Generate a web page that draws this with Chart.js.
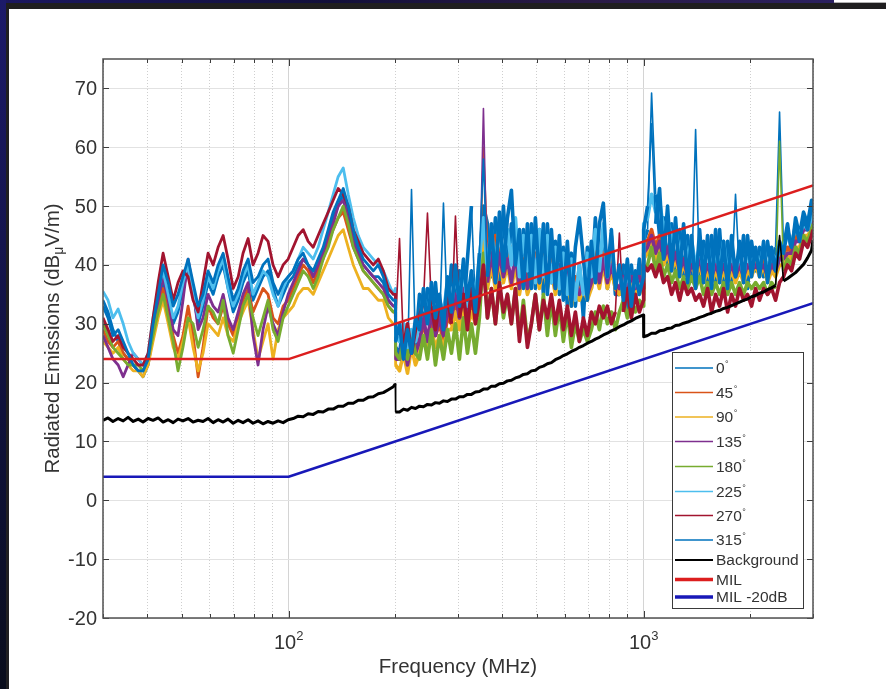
<!DOCTYPE html>
<html>
<head>
<meta charset="utf-8">
<script src="https://cdn.jsdelivr.net/npm/chart.js@4.4.1/dist/chart.umd.min.js"></script>
<style>
  html, body { margin: 0; padding: 0; background: #fff; }
  #wrap { position: relative; width: 886px; height: 689px; overflow: hidden; background: #fff; }
  #wrap canvas { position: absolute; left: 0; top: 0; }
  .edge { position: absolute; }
</style>
</head>
<body>
<div id="wrap">
  <canvas id="chart" width="886" height="689"></canvas>
  <div class="edge" style="left:0;top:0;width:834px;height:3px;background:linear-gradient(90deg,#1b1760,#120f3a 40%,#2a1a45 70%,#2b2060)"></div>
  <div class="edge" style="left:834px;top:2px;width:52px;height:1px;background:#b0b0b0"></div>
  <div class="edge" style="left:0;top:3px;width:886px;height:6px;background:#1f1e1f"></div>
  <div class="edge" style="left:0;top:0;width:6px;height:689px;background:linear-gradient(180deg,#1c1a6a,#15154e 35%,#0d1030 75%,#0a0d1c)"></div>
  <div class="edge" style="left:6px;top:9px;width:3px;height:680px;background:#201f22"></div>
</div>
<script>
// Frequency points of the sweep (MHz)
const freqMHz = [
  // 30 - 197 MHz
  30.0, 31.0, 32.0, 33.1, 34.2, 35.3, 36.5, 37.7, 38.9, 40.2, 41.5, 42.9, 44.3, 45.8, 47.3, 48.8, 50.4, 52.1, 53.8, 55.6,
  57.4, 59.3, 61.3, 63.3, 65.4, 67.5, 69.8, 72.1, 74.4, 76.9, 79.4, 82.0, 84.7, 87.5, 90.4, 93.4, 96.5, 99.7, 103.0, 106.4,
  109.9, 113.5, 117.3, 121.1, 125.1, 129.3, 133.5, 137.9, 142.5, 147.2, 152.1, 157.1, 162.3, 167.6, 173.2, 178.9, 184.8, 190.9, 197.2,
  // band change at 200 MHz
  199.8, 200.2,
  // 205 - 973 MHz
  205.3, 210.7, 216.2, 221.9, 227.7, 233.7, 239.8, 246.1, 252.6, 259.2, 266.0, 273.0, 280.2, 287.5, 295.1, 302.8, 310.8, 318.9, 327.3, 335.9,
  344.7, 353.8, 363.1, 372.6, 382.4, 392.5, 402.8, 413.4, 424.2, 435.4, 446.8, 458.5, 470.6, 482.9, 495.6, 508.6, 522.0, 535.7, 549.8, 564.2,
  579.0, 594.2, 609.8, 625.9, 642.3, 659.2, 676.5, 694.3, 712.5, 731.2, 750.4, 770.1, 790.4, 811.2, 832.5, 854.4, 876.8, 899.8, 923.5, 947.7, 972.6,
  // band change at 1 GHz
  999.5, 1000.5,
  // 1.03 - 3 GHz
  1026, 1053, 1081, 1109, 1138, 1168, 1199, 1230, 1263, 1296, 1330, 1365, 1401, 1438, 1475, 1514, 1554, 1595, 1637, 1680,
  1724, 1769, 1815, 1863, 1912, 1962, 2014, 2067, 2121, 2177, 2234, 2293, 2353, 2415, 2478, 2543, 2610, 2679, 2749, 2821, 2896, 2972, 3000
];

// Radiated emissions per antenna angle (dBuV/m)
const deg0 = [
  34, 32, 29, 27, 25, 24, 23, 22, 21, 23, 28, 33, 37, 34, 30, 32, 36, 39, 35, 30, 33, 37, 35, 38, 40, 36, 32, 34, 37, 39,
  34, 36, 38, 39, 36, 33, 35, 37, 38, 40, 41, 40, 38, 40, 42, 45, 48, 50, 52, 49, 45, 42, 40, 39, 38, 38, 37, 34, 33,
  33, 26,
  25, 30, 23, 52.8, 26, 35, 29, 36, 30, 37, 29, 50.5, 31, 40, 33, 39, 32, 41, 50, 33, 40, 50,
  47, 38, 48, 37, 50, 39, 47, 41, 37, 46, 36, 47, 36, 46, 35, 47, 37, 44, 35, 43, 33,
  42, 33, 40, 31, 43, 36, 48, 37, 46, 36, 45, 35, 35, 40, 32, 40, 34, 41,
  36, 44,
  46, 69.2, 52, 45, 48, 40, 47, 39, 46, 38, 45, 37, 63, 37, 44, 36, 45, 37, 46, 36,
  44, 37, 52, 38, 45, 36, 44, 39, 43, 38, 44, 39, 43, 66, 43, 47, 42, 48, 45, 49, 47, 51, 50
];
const deg45 = [
  29, 27, 26, 27, 25, 24, 23, 22, 22, 24, 29, 33, 36, 32, 28, 25, 28, 33, 28, 21, 26, 33, 31, 30, 33, 30, 28, 31, 34, 36,
  32, 34, 36, 35, 31, 30, 33, 34, 36, 38, 40, 39, 37, 39, 41, 44, 46, 48, 49, 46, 43, 41, 39, 38, 37, 36, 35, 33, 32,
  32, 25,
  24, 27, 23, 28, 25, 27, 30, 27, 31, 28, 30, 27, 31, 30, 34, 31, 35, 30, 34, 31, 36, 60,
  44, 40, 45, 41, 42, 39, 43, 40, 37, 41, 36, 38, 42, 37, 42, 37, 41, 36, 40, 36, 40,
  34, 38, 35, 37, 36, 37, 43, 38, 42, 37, 41, 36, 35, 38, 35, 38, 35, 38,
  36, 43,
  44, 46, 43, 45, 41, 43, 40, 42, 39, 41, 38, 40, 39, 41, 38, 40, 38, 40, 38, 40,
  38, 40, 38, 40, 38, 40, 39, 41, 39, 41, 38, 40, 39, 42, 41, 43, 42, 45, 44, 47, 46, 48, 49
];
const deg90 = [
  27, 26, 25, 26, 24, 23, 22, 22, 21, 23, 27, 31, 34, 30, 26, 24, 27, 31, 26, 22, 25, 30, 29, 28, 31, 28, 27, 30, 32, 34,
  29, 24, 27, 30, 24, 29, 31, 32, 33, 35, 36, 36, 35, 37, 39, 41, 43, 45, 46, 43, 40, 38, 36, 36, 35, 34, 34, 31, 30,
  30, 23,
  22, 25, 21.6, 26, 23, 25, 28, 25, 29, 26, 28, 26, 29, 29, 32, 29, 33, 29, 32, 30, 34, 45,
  36, 40, 36, 41, 37, 40, 36, 40, 35, 39, 35, 37, 40, 36, 40, 36, 39, 35, 39, 35, 38,
  33, 36, 34, 36, 34, 36, 39, 36, 40, 36, 39, 36, 35, 37, 35, 37, 35, 37,
  35, 41,
  42, 44, 41, 43, 40, 42, 39, 41, 38, 40, 38, 40, 38, 40, 37, 39, 37, 39, 37, 39,
  37, 39, 37, 39, 37, 39, 38, 40, 38, 40, 37, 39, 38, 40, 40, 42, 41, 43, 43, 45, 45, 46, 47
];
const deg135 = [
  28, 26, 24, 23, 21, 23, 25, 24, 23, 24, 29, 34, 38, 34, 29, 28, 34, 41, 36, 29, 31, 35, 33, 32, 35, 31, 29, 32, 35, 37,
  28, 23, 29, 33, 30, 28, 32, 35, 37, 39, 41, 40, 38, 40, 42, 45, 47, 50, 51, 48, 44, 42, 40, 39, 38, 37, 36, 34, 33,
  33, 24,
  24, 28, 23, 27, 25, 27, 31, 27, 32, 28, 31, 28, 32, 31, 35, 31, 36, 31, 35, 32, 36, 66.6,
  37, 42, 37, 42, 38, 41, 37, 42, 36, 40, 36, 38, 41, 37, 41, 37, 40, 36, 40, 36, 39,
  34, 37, 35, 37, 35, 37, 41, 37, 41, 37, 40, 37, 36, 38, 36, 38, 36, 38,
  36, 42,
  43, 45, 42, 44, 41, 43, 40, 42, 39, 41, 38, 40, 39, 41, 38, 40, 38, 40, 38, 40,
  38, 40, 38, 40, 38, 40, 39, 40, 39, 40, 38, 40, 39, 41, 41, 42, 42, 44, 44, 46, 46, 47, 48
];
const deg180 = [
  30, 28, 26, 25, 24, 23, 23, 23, 22, 24, 28, 32, 35, 31, 27, 22, 26, 31, 30, 26, 29, 33, 32, 30, 34, 28, 25, 29, 33, 35,
  31, 28, 31, 34, 29, 27, 31, 33, 35, 37, 39, 38, 36, 38, 41, 43, 46, 48, 50, 47, 43, 41, 39, 38, 37, 36, 35, 33, 32,
  32, 25,
  24, 27, 24, 28, 25, 24, 28, 24, 29, 23, 28, 24, 29, 25, 30, 24, 31, 25, 30, 25, 31, 42,
  31, 36, 30, 37, 31, 35, 30, 36, 28, 34, 27, 30, 35, 29, 35, 28, 34, 28, 33, 27, 32,
  26, 30, 27, 29, 27, 29, 32, 29, 33, 30, 32, 29, 32, 34, 31, 34, 32, 34,
  33, 39,
  40, 43, 39, 42, 38, 40, 37, 39, 36, 38, 36, 38, 36, 38, 35, 37, 35, 37, 35, 37,
  35, 37, 35, 37, 35, 37, 36, 37, 36, 37, 35, 37, 36, 61, 39, 41, 40, 43, 42, 45, 44, 46, 47
];
const deg225 = [
  35.5, 34, 31, 32.5, 30, 27, 25, 24, 23, 25, 31, 36, 39, 35, 31, 33, 37, 40, 35, 31, 34, 38, 36, 39, 41, 36, 33, 35, 38, 40,
  35, 37, 39, 38, 35, 33, 36, 38, 39, 41, 43, 42, 41, 43, 46, 49, 52, 55, 56.5, 52, 48, 45, 43, 42, 41, 40, 39, 37, 35,
  36, 28,
  27, 30, 26, 29, 27, 30, 35, 31, 36, 30, 34, 32, 37, 33, 39, 34, 40, 33, 38, 35, 41, 48,
  39, 46, 40, 47, 41, 46, 40, 48, 38, 45, 39, 45, 37, 46, 38, 45, 37, 43, 36, 42, 35,
  41, 34, 40, 35, 42, 38, 46, 39, 47, 38, 44, 37, 39, 35, 40, 34, 38, 36,
  37, 47,
  48, 52, 49, 51, 46, 48, 44, 46, 42, 45, 41, 44, 40, 43, 39, 44, 38, 43, 39, 44,
  38, 43, 39, 42, 38, 43, 39, 42, 40, 43, 39, 42, 41, 42, 43, 45, 44, 46, 45, 47, 46, 48, 49
];
const deg270 = [
  31, 29, 27, 28, 26, 25, 24, 23, 23, 25, 31, 37, 42, 38, 34, 37, 39, 38, 34, 32, 37, 42, 40, 43, 45, 41, 36, 38, 42, 44.5,
  40, 42, 45, 44, 40, 38, 40, 41, 43, 45, 46, 44, 43, 45, 47, 49, 51, 53, 52, 50, 46, 44, 42, 41, 40, 41, 39, 36, 35,
  35, 30,
  44.5, 26, 30, 25, 29, 31, 34, 48.8, 33, 29, 34, 30, 35, 30, 48.3, 31, 35, 29, 36, 30, 34, 40,
  31, 36, 30, 37, 32, 35, 30, 36, 27, 33, 26, 30, 35, 29, 34, 31, 35, 30, 34, 29, 33,
  28, 32, 27, 31, 28, 32, 30, 33, 31, 33, 30, 32, 45.4, 32, 36, 31, 35, 32,
  34, 40,
  39, 40, 38, 40, 37, 38, 35, 37, 34, 37, 35, 36, 34, 35, 33, 36, 32, 35, 33, 36,
  32, 35, 33, 36, 34, 35, 33, 36, 34, 36, 35, 36, 34, 37, 38, 40, 39, 42, 41, 44, 43, 45, 46
];
const deg315 = [
  33, 31, 28, 29, 27, 25, 23, 22, 22, 24, 30, 35, 40, 37, 33, 35, 38, 41, 37, 33, 35, 39, 37, 40, 42, 38, 34, 36, 39, 41,
  37, 38, 40, 41, 37, 35, 37, 38, 39, 41, 42, 40, 39, 41, 43, 46, 49, 51, 53, 50, 46, 43, 41, 40, 39, 40, 38, 35, 34,
  34, 27,
  30, 24, 29, 25, 31, 29, 36, 30, 37, 31, 35, 29, 38, 32, 40, 33, 41, 34, 39, 32, 42, 58,
  38, 47, 37, 49, 39, 48, 52.7, 40, 46, 36, 47, 36, 48, 37, 47, 35, 46, 36, 45, 34, 44,
  33, 43, 48, 41, 34, 44, 37, 47, 50.5, 38, 46, 36, 40, 34, 41, 33, 39, 35,
  38, 46,
  50, 64, 47, 53, 41, 50, 39, 48, 38, 47, 37, 45, 36, 46, 37, 45, 36, 46, 37, 44,
  36, 45, 38, 44, 37, 45, 38, 43, 38, 44, 37, 43, 39, 44, 42, 46, 43, 47, 44, 48, 46, 50, 49
];
// Ambient (antenna with equipment off)
const background = [
  13.6, 14.0, 13.4, 13.9, 13.5, 14.1, 13.4, 13.8, 13.3, 13.9, 13.6, 14.0, 13.3, 13.7, 13.2, 13.8, 13.5, 13.9, 13.3, 13.6,
  13.4, 13.9, 13.2, 13.7, 13.3, 13.8, 13.1, 13.6, 13.2, 13.7, 13.1, 13.5, 13.0, 13.4, 13.1, 13.5, 13.2, 13.7, 13.9, 14.3,
  14.2, 14.7, 14.6, 15.1, 15.0, 15.5, 15.5, 16.0, 16.0, 16.5, 16.5, 17.0, 17.0, 17.5, 17.6, 18.1, 18.3, 18.8, 19.3,
  19.8, 15.0,
  15.0, 15.5, 15.3, 15.8, 15.6, 16.0, 15.9, 16.3, 16.2, 16.6, 16.5, 16.9, 16.8, 17.2, 17.2, 17.6, 17.6, 18.0, 18.0, 18.4,
  18.5, 18.9, 18.9, 19.4, 19.4, 19.8, 19.9, 20.3, 20.4, 20.8, 21.0, 21.4, 21.5, 22.0, 22.1, 22.6, 22.8, 23.2, 23.4, 23.9,
  24.2, 24.6, 24.9, 25.3, 25.6, 26.0, 26.3, 26.7, 27.0, 27.4, 27.7, 28.1, 28.4, 28.8, 29.1, 29.5, 29.8, 30.2, 30.5, 30.9, 31.2,
  31.5, 27.8,
  28.0, 28.4, 28.4, 28.8, 28.9, 29.2, 29.3, 29.7, 29.8, 30.1, 30.3, 30.6, 30.8, 31.1, 31.3, 31.6, 31.8, 32.1, 32.3, 32.6,
  32.8, 33.1, 33.4, 33.7, 34.0, 34.2, 34.6, 34.8, 35.2, 35.4, 35.8, 36.1, 36.5, 45.0, 37.3, 37.7, 38.2, 38.7, 39.4, 40.1, 41.2, 42.5, 44.2
];

// Limit line breakpoints
const milFreq = [30, 100, 3000];
const milLimit = [24, 24, 53.5];
const milLimitMinus20 = [4, 4, 33.5];

// Axis ticks and legend text
const yTicks = [-20, -10, 0, 10, 20, 30, 40, 50, 60, 70];
const xGridTicks = [30, 40, 50, 60, 70, 80, 90, 100, 200, 300, 400, 500, 600, 700, 800, 900, 1000, 2000, 3000];
const xLabelTicks = [100, 1000];
const angleLabels = ['0', '45', '90', '135', '180', '225', '270', '315'];
const extraLabels = ['Background', 'MIL', 'MIL -20dB'];
const xTitle = 'Frequency (MHz)';
const yTitleParts = ['Radiated Emissions (dB', '\u03bc', 'V/m)'];

// Styling
const angleColors = ['#0072BD', '#D95319', '#EDB120', '#7E2F8E', '#77AC30', '#4DBEEE', '#A2142F', '#0072BD'];
const FONT = '"Liberation Sans", Arial, Helvetica, sans-serif';
const TEXT = '#333333';

const angleSeries = [deg0, deg45, deg90, deg135, deg180, deg225, deg270, deg315];
const toPoints = (xs, ys) => xs.map((f, i) => ({ x: f, y: ys[i] }));

// Heavier stroke for the dense bands above 200 MHz; narrow-band spikes stay thin.
const traceWidth = c => {
  if (c.p0.parsed.x < 200) return 2.8;
  return Math.abs(c.p1.parsed.y - c.p0.parsed.y) > 13 ? 1.6 : 3.6;
};

const datasets = [];
angleSeries.forEach((vals, i) => {
  datasets.push({
    label: angleLabels[i], data: toPoints(freqMHz, vals),
    borderColor: angleColors[i], borderWidth: 2.8, order: 20 - i,
    segment: { borderWidth: traceWidth }
  });
});
datasets.push({ label: extraLabels[0], data: toPoints(freqMHz, background), borderColor: '#000000', borderWidth: 3, order: 3,
  segment: { borderWidth: c => (Math.abs(c.p1.parsed.y - c.p0.parsed.y) > 4 ? 1.6 : 3) } });
datasets.push({ label: extraLabels[1], data: toPoints(milFreq, milLimit), borderColor: '#dc1e1e', borderWidth: 2.5, order: 2 });
datasets.push({ label: extraLabels[2], data: toPoints(milFreq, milLimitMinus20), borderColor: '#1818b8', borderWidth: 2.5, order: 1 });
datasets.forEach(d => { d.pointRadius = 0; d.tension = 0; d.fill = false; d.borderJoinStyle = 'round'; });

const legendRows = [368, 392.5, 417, 441.5, 466.5, 491.5, 515.5, 540, 560, 579.5, 597];
const legendWidths = [1.5, 1.5, 1.5, 1.5, 1.5, 1.5, 1.5, 1.5, 2, 3.5, 3.5];

const decorations = {
  id: 'decorations',
  afterDatasetsDraw(chart) {
    const { ctx, chartArea: a, scales: { x, y } } = chart;
    ctx.save();
    // inward tick marks on all four sides
    ctx.strokeStyle = '#3c3c3c';
    ctx.lineWidth = 1;
    ctx.beginPath();
    yTicks.forEach(v => {
      const py = Math.round(y.getPixelForValue(v)) + 0.5;
      ctx.moveTo(a.left, py); ctx.lineTo(a.left + 6, py);
      ctx.moveTo(a.right, py); ctx.lineTo(a.right - 6, py);
    });
    xGridTicks.forEach(v => {
      const px = Math.round(x.getPixelForValue(v)) + 0.5;
      const len = xLabelTicks.includes(v) ? 7 : 4;
      ctx.moveTo(px, a.bottom); ctx.lineTo(px, a.bottom - len);
      ctx.moveTo(px, a.top); ctx.lineTo(px, a.top + len);
    });
    ctx.stroke();
    // axes box
    ctx.lineWidth = 1.5;
    ctx.strokeStyle = '#505050';
    ctx.strokeRect(a.left, a.top, a.right - a.left, a.bottom - a.top);

    // legend
    const bx = 672.5, by = 352.5, bw = 131, bh = 256;
    ctx.fillStyle = '#ffffff';
    ctx.fillRect(bx, by, bw, bh);
    ctx.lineWidth = 1;
    ctx.strokeStyle = '#3a3a3a';
    ctx.strokeRect(bx, by, bw, bh);
    chart.data.datasets.forEach((d, i) => {
      const ly = legendRows[i];
      ctx.beginPath();
      ctx.strokeStyle = d.borderColor;
      ctx.lineWidth = legendWidths[i];
      ctx.moveTo(675, ly); ctx.lineTo(713, ly);
      ctx.stroke();
      ctx.fillStyle = TEXT;
      ctx.textBaseline = 'middle';
      ctx.textAlign = 'left';
      ctx.font = '15.5px ' + FONT;
      ctx.fillText(d.label, 716, ly + 1);
      if (i < angleLabels.length) {
        const w = ctx.measureText(d.label).width;
        ctx.font = '9px ' + FONT;
        ctx.fillText('\u00b0', 716 + w + 0.5, ly - 3);
      }
    });
    ctx.restore();
  },
  afterDraw(chart) {
    const { ctx, chartArea: a, scales: { x, y } } = chart;
    ctx.save();
    ctx.fillStyle = TEXT;
    // y tick labels
    ctx.font = '20px ' + FONT;
    ctx.textAlign = 'right';
    ctx.textBaseline = 'middle';
    yTicks.forEach(v => ctx.fillText(String(v), a.left - 6, y.getPixelForValue(v) + 1));
    // x tick labels as powers of ten
    ctx.textAlign = 'left';
    ctx.textBaseline = 'alphabetic';
    xLabelTicks.forEach(v => {
      const px = x.getPixelForValue(v);
      const exp = String(Math.round(Math.log10(v)));
      ctx.font = '20px ' + FONT;
      const w1 = ctx.measureText('10').width;
      ctx.font = '13px ' + FONT;
      const w2 = ctx.measureText(exp).width;
      const sx = px - (w1 + w2) / 2;
      ctx.font = '20px ' + FONT;
      ctx.fillText('10', sx, 649);
      ctx.font = '13px ' + FONT;
      ctx.fillText(exp, sx + w1, 640);
    });
    // x axis title
    ctx.font = '20.5px ' + FONT;
    ctx.textAlign = 'center';
    ctx.fillText(xTitle, (a.left + a.right) / 2, 673);
    // y axis title with subscript mu
    ctx.translate(59, (a.top + a.bottom) / 2);
    ctx.rotate(-Math.PI / 2);
    ctx.textAlign = 'left';
    const fonts = ['20.5px ' + FONT, '14px ' + FONT, '20.5px ' + FONT];
    const shifts = [0, 4, 0];
    const widths = yTitleParts.map((t, i) => { ctx.font = fonts[i]; return ctx.measureText(t).width; });
    let cx = -widths.reduce((s, w) => s + w, 0) / 2;
    yTitleParts.forEach((t, i) => {
      ctx.font = fonts[i];
      ctx.fillText(t, cx, shifts[i]);
      cx += widths[i];
    });
    ctx.restore();
  }
};

new Chart(document.getElementById('chart'), {
  type: 'line',
  data: { datasets },
  options: {
    responsive: false,
    animation: false,
    events: [],
    layout: { padding: { left: 0, top: 59, right: 73, bottom: 0 } },
    plugins: { legend: { display: false }, tooltip: { enabled: false } },
    scales: {
      x: {
        type: 'logarithmic', min: 30, max: 3000,
        afterBuildTicks: s => { s.ticks = xGridTicks.map(v => ({ value: v })); },
        afterFit: s => { s.height = 71; },
        ticks: { display: false },
        grid: { drawTicks: false, lineWidth: 1,
          color: c => (c.tick && xLabelTicks.includes(c.tick.value)) ? '#d4d4d4' : '#cfcfcf' },
        border: { display: false,
          dash: c => (c.tick && !xLabelTicks.includes(c.tick.value)) ? [1, 2] : [] }
      },
      y: {
        type: 'linear', min: -20, max: 75,
        afterBuildTicks: s => { s.ticks = yTicks.map(v => ({ value: v })); },
        afterFit: s => { s.width = 103; },
        ticks: { display: false },
        grid: { drawTicks: false, color: '#e2e2e2', lineWidth: 1 },
        border: { display: false }
      }
    }
  },
  plugins: [decorations]
});
</script>
</body>
</html>
